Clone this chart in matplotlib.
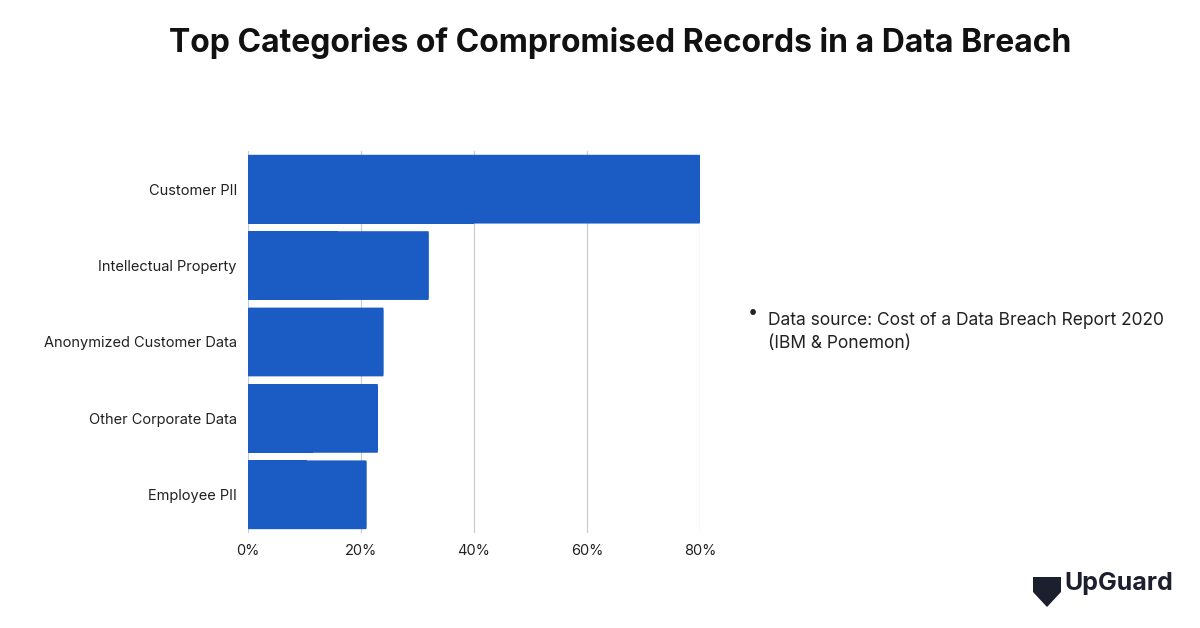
import matplotlib.pyplot as plt
from matplotlib.patches import FancyBboxPatch, Polygon
from matplotlib.ticker import FuncFormatter

categories = ["Customer PII", "Intellectual Property", "Anonymized Customer Data",
              "Other Corporate Data", "Employee PII"]
values = [80, 32, 24, 23, 21]
ticks = [0, 20, 40, 60, 80]

BLUE = "#1a5bc4"
plt.rcParams["font.family"] = "Inter"

fig = plt.figure(figsize=(12, 6.28), dpi=100)
ax = fig.add_axes([0.2067, 0.1513, 0.3767, 0.6083])

n = len(categories)
ypos = list(range(n))[::-1]
h = 0.9
for y, v in zip(ypos, values):
    ax.add_patch(FancyBboxPatch((0, y - h / 2), v, h,
                                boxstyle="round,pad=0,rounding_size=0.08",
                                mutation_aspect=1 / 1.8,
                                facecolor=BLUE, edgecolor="none", zorder=3))
    ax.add_patch(plt.Rectangle((0, y - h / 2), v * 0.5, h, facecolor=BLUE,
                               edgecolor="none", zorder=3))

ax.set_xlim(0, 80)
ax.set_ylim(-0.5, n - 0.5)
ax.set_xticks(ticks)
ax.xaxis.set_major_formatter(FuncFormatter(lambda x, p: f"{x:.0f}%"))
ax.set_yticks(ypos)
ax.set_yticklabels(categories)
ax.tick_params(length=0, labelsize=10.5, colors="#222222", pad=8)
ax.grid(axis="x", color="#cccccc", linewidth=0.9, zorder=0)
for s in ax.spines.values():
    s.set_visible(False)

fig.text(0.517, 0.932, "Top Categories of Compromised Records in a Data Breach",
         ha="center", va="center", fontsize=23, fontweight="bold", color="#111111")

fig.text(0.627, 0.503, "\u2022", fontsize=13, ha="center", va="center", color="#222222")
fig.text(0.64, 0.503, "Data source: Cost of a Data Breach Report 2020\n(IBM & Ponemon)",
         fontsize=12.5, ha="left", va="top", color="#222222", linespacing=1.45,
         transform=fig.transFigure)

# logo
shield = Polygon([[1033, 577], [1061, 577], [1061, 592], [1047, 607], [1033, 592]],
                 closed=True, facecolor="#1c1f2e", edgecolor="none",
                 transform=None)
shield.set_transform(fig.dpi_scale_trans.inverted() + fig.dpi_scale_trans)
from matplotlib.transforms import Affine2D
shield.set_transform(Affine2D().scale(1, -1).translate(0, 628))
fig.patches.append(shield)
fig.text(0.978, 0.052, "UpGuard", fontsize=18, fontweight="bold", ha="right",
         va="bottom", color="#1c1f2e")

fig.savefig("out.png", dpi=100)
